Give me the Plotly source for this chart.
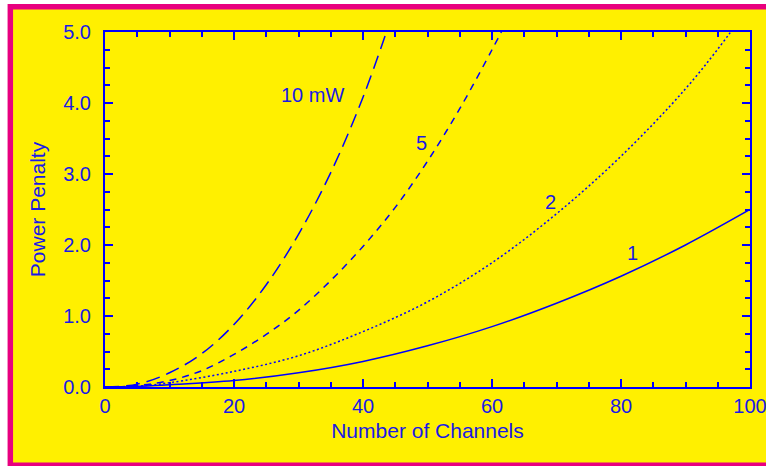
import plotly.graph_objects as go

# Data
ch_10mw = [0, 5, 10, 15, 20, 25, 30, 35, 40, 44]
pp_10mw = [0, 0.04, 0.2, 0.47, 0.88, 1.44, 2.15, 3.02, 4.08, 5.1]

ch_5mw = [0, 5, 10, 15, 20, 25, 30, 35, 40, 45, 50, 55, 60, 62]
pp_5mw = [0, 0.02, 0.09, 0.23, 0.46, 0.74, 1.08, 1.5, 1.98, 2.53, 3.18, 3.92, 4.75, 5.1]

ch_2mw = [0, 5, 10, 20, 30, 40, 50, 60, 70, 80, 90, 97, 100]
pp_2mw = [0, 0.012, 0.06, 0.22, 0.44, 0.78, 1.2, 1.75, 2.44, 3.25, 4.2, 5.0, 5.4]

ch_1mw = [0, 5, 10, 20, 30, 40, 50, 60, 70, 80, 90, 100]
pp_1mw = [0, 0.008, 0.03, 0.09, 0.2, 0.36, 0.58, 0.85, 1.18, 1.56, 2.0, 2.5]

curve_labels = ["10 mW", "5", "2", "1"]
label_x = [32.2, 49.0, 69.0, 81.8]
label_y = [4.11, 3.44, 2.61, 1.89]

BLUE = "#0000ff"
TXT = "#1a1ae6"
YELLOW = "#fff000"
PINK = "#e8007f"
FONT = "Liberation Sans, Arial, Helvetica, sans-serif"

fig = go.Figure()
series = [
    (ch_10mw, pp_10mw, "14px,7px"),
    (ch_5mw, pp_5mw, "7px,6px"),
    (ch_2mw, pp_2mw, "2px,2.5px"),
    (ch_1mw, pp_1mw, "solid"),
]
for xs, ys, dash in series:
    fig.add_trace(go.Scatter(x=xs, y=ys, mode="lines",
                             line=dict(color=BLUE, width=1.5, dash=dash, shape="spline", smoothing=1.0),
                             showlegend=False, hoverinfo="skip"))

for t, x, y in zip(curve_labels, label_x, label_y):
    fig.add_annotation(x=x, y=y, text=t, showarrow=False, font=dict(family=FONT, size=20, color=TXT))

W, H = 766, 466
L, R, T, B = 104.5, 750, 32, 387
pw, ph = R - L, B - T

def px(x):
    return (x - L) / pw

def py(y):
    return (B - y) / ph

# white outer margin and pink frame
fig.add_shape(type="rect", xref="paper", yref="paper", x0=px(-5), x1=px(W + 5), y0=py(H + 5), y1=py(-5),
              fillcolor="white", line_width=0, layer="below")
fig.add_shape(type="rect", xref="paper", yref="paper", x0=px(7), x1=px(W + 5), y0=py(466), y1=py(4),
              fillcolor=PINK, line_width=0, layer="below")
fig.add_shape(type="rect", xref="paper", yref="paper", x0=px(12.5), x1=px(W + 5), y0=py(462.5), y1=py(9.5),
              fillcolor=YELLOW, line_width=0, layer="below")

axis_common = dict(
    showgrid=False, zeroline=False, showline=True, linecolor=BLUE, linewidth=2,
    mirror="ticks", ticks="inside", ticklen=8, tickwidth=1.5, tickcolor=BLUE,
    tickfont=dict(family=FONT, size=20, color=TXT), ticklabeloverflow="allow",
    automargin=False,
)
fig.update_xaxes(
    range=[0, 100], tickvals=[0, 20, 40, 60, 80, 100], ticktext=["0", "20", "40", "60", "80", "100"],
    minor=dict(dtick=5, ticks="inside", ticklen=5, tickwidth=1.5, tickcolor=BLUE, showgrid=False),
    title=dict(text="Number of Channels", font=dict(family=FONT, size=21, color=TXT), standoff=7),
    **axis_common,
)
fig.update_yaxes(
    range=[0, 5], tickvals=[0, 1, 2, 3, 4, 5], ticktext=["0.0", "1.0", "2.0", "3.0", "4.0", "5.0"],
    minor=dict(dtick=0.25, ticks="inside", ticklen=5, tickwidth=1.5, tickcolor=BLUE, showgrid=False),
    title=dict(text="Power Penalty", font=dict(family=FONT, size=21, color=TXT), standoff=12),
    ticklabelstandoff=8,
    **axis_common,
)
fig.update_layout(
    width=W, height=H,
    margin=dict(l=L, r=W - R, t=T, b=H - B, pad=0),
    paper_bgcolor=YELLOW, plot_bgcolor=YELLOW,
    font=dict(family=FONT, color=TXT),
)
fig.write_html("out.html", config={"displayModeBar": False},
               post_script="document.body.style.margin='0px';document.body.style.overflow='hidden';")
